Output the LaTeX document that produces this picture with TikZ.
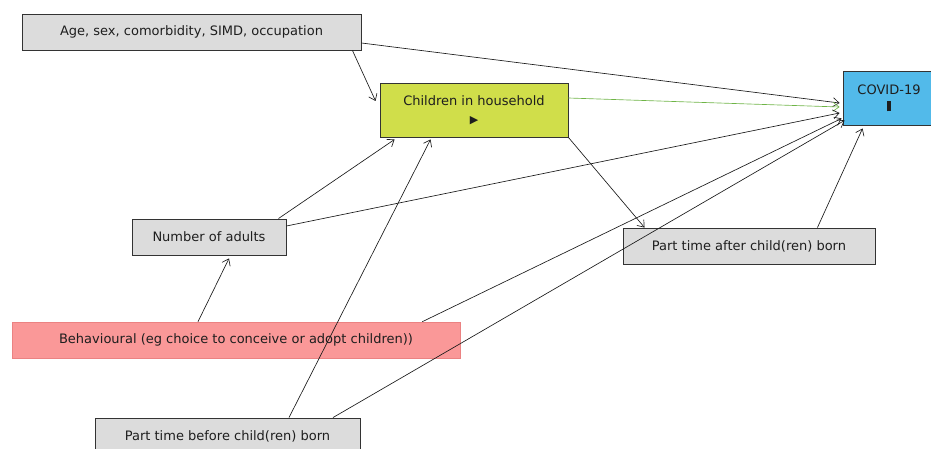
\documentclass[tikz,border=0pt]{standalone}
\usepackage{fontspec}
\setmainfont{DejaVu Sans}
\usetikzlibrary{arrows.meta,calc}
\definecolor{boxgray}{RGB}{220,220,220}
\definecolor{boxgreen}{RGB}{208,222,74}
\definecolor{boxblue}{RGB}{82,186,234}
\definecolor{boxpink}{RGB}{250,152,152}
\definecolor{pinkline}{RGB}{235,130,130}
\definecolor{edgegreen}{RGB}{110,180,70}
\definecolor{txt}{RGB}{30,30,30}
\tikzset{
  x=1pt,y=1pt,
  box/.style={draw=black!80,line width=0.9pt,fill=boxgray,inner sep=0pt,text=txt,
    font=\fontsize{13}{15}\selectfont,align=center},
  arr/.style={draw=black!90,line width=0.65pt,-{Straight Barb[length=6pt,width=9pt]}},
}
\begin{document}
\begin{tikzpicture}
\useasboundingbox (0,0) rectangle (931,448);
\begin{scope}
\clip (0,0) rectangle (931,448);
\node[box,minimum width=339pt,minimum height=36pt] (age) at (191.5,416) {Age, sex, comorbidity, SIMD, occupation};
\node[box,fill=boxgreen,minimum width=188pt,minimum height=54pt] (child) at (474,338) {Children in household\\[3pt]{\fontsize{11}{11}\selectfont ▶}};
\node[box,fill=boxblue,minimum width=92pt,minimum height=54pt] (covid) at (889,350) {COVID-19\\[2pt]\rule{3.5pt}{10pt}};
\node[box,minimum width=154pt,minimum height=36pt] (adults) at (209,211) {Number of adults};
\node[box,draw=pinkline,line width=0.6pt,fill=boxpink,minimum width=448pt,minimum height=36pt] (beh) at (236,108) {Behavioural (eg choice to conceive or adopt children))};
\node[box,minimum width=265pt,minimum height=46pt] (ptb) at (227.5,7) {\raisebox{10pt}{Part time before child(ren) born}};
\node[box,minimum width=252pt,minimum height=36pt] (pta) at (749,202) {Part time after child(ren) born};
\end{scope}
\draw[arr] ($(age.south east)+(-9,0)$) -- ($(child.west)+(-4,9)$);
\draw[arr] ($(age.east)+(0,-11)$) -- ($(covid.west)+(-3,-5)$);
\draw[arr,draw=edgegreen] ($(child.east)+(0,12)$) -- ($(covid.west)+(-3,-9)$);
\draw[arr] (child.south east) -- ($(pta.north west)+(22,0)$);
\draw[arr] ($(adults.north east)+(-8,0)$) -- ($(child.south west)+(15,-2)$);
\draw[arr] ($(adults.east)+(0,11)$) -- ($(covid.west)+(-3,-15)$);
\draw[arr] ($(beh.north)+(-38,0)$) -- ($(adults.south)+(20,-3)$);
\draw[arr] ($(beh.north east)+(-38,0)$) -- ($(covid.south west)+(-1,7)$);
\draw[arr] ($(ptb.north)+(61.5,0)$) -- ($(child.south west)+(51,-2)$);
\draw[arr] ($(ptb.north)+(105.5,0)$) -- ($(covid.south west)+(2,5)$);
\draw[arr] ($(pta.north east)+(-58,0)$) -- ($(covid.south west)+(20,-3)$);
\end{tikzpicture}
\end{document}
